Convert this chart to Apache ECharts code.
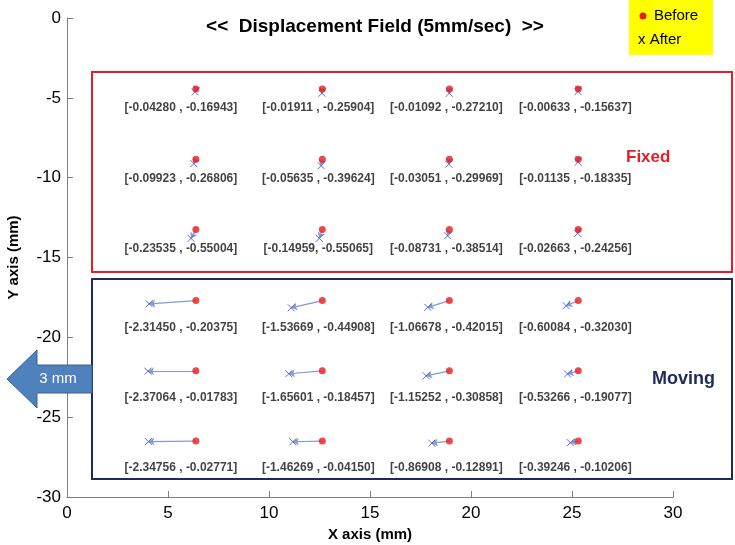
<!DOCTYPE html>
<html>
<head>
<meta charset="utf-8">
<script src="https://cdn.jsdelivr.net/npm/echarts@6/dist/echarts.min.js"></script>
<style>
  html, body { margin: 0; padding: 0; background: #fff; }
  #chart { width: 735px; height: 545px; }
</style>
</head>
<body>
<div id="chart"></div>
<script>
// before positions (mm), row-major: 3 fixed rows then 3 moving rows, 4 columns
const beforeX = [6.38, 12.64, 18.93, 25.31,  6.38, 12.64, 18.93, 25.31,  6.38, 12.64, 18.93, 25.31,
                 6.38, 12.64, 18.93, 25.31,  6.38, 12.64, 18.93, 25.31,  6.38, 12.64, 18.93, 25.31]
const beforeY = [-4.45, -4.45, -4.45, -4.45,  -8.85, -8.85, -8.85, -8.85,  -13.25, -13.25, -13.25, -13.25,
                 -17.7, -17.7, -17.7, -17.7,  -22.1, -22.1, -22.1, -22.1,  -26.5, -26.5, -26.5, -26.5]
const afterX = [6.34, 12.62, 18.92, 25.30,  6.28, 12.58, 18.90, 25.30,  6.14, 12.49, 18.84, 25.28,
                4.07, 11.10, 17.86, 24.71,  4.01, 10.98, 17.78, 24.78,  4.03, 11.18, 18.06, 24.92]
const afterY = [-4.62, -4.71, -4.72, -4.61,  -9.12, -9.25, -9.15, -9.03,  -13.80, -13.80, -13.64, -13.49,
                -17.90, -18.15, -18.12, -18.02,  -22.12, -22.28, -22.41, -22.29,  -26.53, -26.54, -26.63, -26.60]
// displacement labels as printed
const dispLabels = [
  '[-0.04280 , -0.16943]', '[-0.01911 , -0.25904]', '[-0.01092 , -0.27210]', '[-0.00633 , -0.15637]',
  '[-0.09923 , -0.26806]', '[-0.05635 , -0.39624]', '[-0.03051 , -0.29969]', '[-0.01135 , -0.18335]',
  '[-0.23535 , -0.55004]', '[-0.14959, -0.55065]',  '[-0.08731 , -0.38514]', '[-0.02663 , -0.24256]',
  '[-2.31450 , -0.20375]', '[-1.53669 , -0.44908]', '[-1.06678 , -0.42015]', '[-0.60084 , -0.32030]',
  '[-2.37064 , -0.01783]', '[-1.65601 , -0.18457]', '[-1.15252 , -0.30858]', '[-0.53266 , -0.19077]',
  '[-2.34756 , -0.02771]', '[-1.46269 , -0.04150]', '[-0.86908 , -0.12891]', '[-0.39246 , -0.10206]'
]
const xTicks = [0, 30, 5]   // min, max, interval
const yTicks = [-30, 0, 5]

// label shift per column (px) and below-point gap for fixed / moving rows
const labelShift = [-15, -4, -3, -3]
const labelDrop = [19, 27]

const myChart = echarts.init(document.getElementById('chart'))

const beforeData = beforeX.map((x, i) => ({
  value: [x, beforeY[i]],
  label: { offset: [labelShift[i % 4], labelDrop[i < 12 ? 0 : 1]] }
}))
const afterData = afterX.map((x, i) => [x, afterY[i]])
const lineData = beforeX.map((x, i) => ({ coords: [[x, beforeY[i]], [afterX[i], afterY[i]]] }))

const option = {
  animation: false,
  grid: { left: 67, right: 62, top: 18, bottom: 48, containLabel: false, outerBoundsMode: 'none' },
  xAxis: {
    type: 'value', min: xTicks[0], max: xTicks[1], interval: xTicks[2],
    name: 'X axis (mm)', nameLocation: 'middle', nameGap: 28,
    nameTextStyle: { fontFamily: 'Liberation Sans', fontWeight: 'bold', fontSize: 15, color: '#000' },
    axisLine: { onZero: false, lineStyle: { color: '#7f7f7f', width: 1 } },
    axisTick: { inside: true, length: 6, lineStyle: { color: '#7f7f7f' } },
    axisLabel: { fontFamily: 'Liberation Sans', fontSize: 17, color: '#000', margin: 8 },
    splitLine: { show: false }
  },
  yAxis: {
    type: 'value', min: yTicks[0], max: yTicks[1], interval: yTicks[2],
    name: 'Y axis (mm)', nameLocation: 'middle', nameGap: 46,
    nameTextStyle: { fontFamily: 'Liberation Sans', fontWeight: 'bold', fontSize: 15, color: '#000' },
    axisLine: { show: true, onZero: false, lineStyle: { color: '#7f7f7f', width: 1 } },
    axisTick: { show: true, inside: true, length: 6, lineStyle: { color: '#7f7f7f' } },
    axisLabel: { fontFamily: 'Liberation Sans', fontSize: 17, color: '#000', margin: 6 },
    splitLine: { show: false }
  },
  graphic: [
    // fixed box
    { type: 'rect', shape: { x: 92, y: 72, width: 640, height: 200 },
      style: { fill: 'none', stroke: '#e3202a', lineWidth: 2 }, z: 1 },
    // moving box
    { type: 'rect', shape: { x: 92, y: 279, width: 640, height: 200 },
      style: { fill: 'none', stroke: '#1c2a5e', lineWidth: 2 }, z: 1 },
    { type: 'text', left: 626, top: 149,
      style: { text: 'Fixed', fill: '#e3202a', font: 'bold 17px "Liberation Sans"' } },
    { type: 'text', left: 652, top: 370,
      style: { text: 'Moving', fill: '#1c2a5e', font: 'bold 18px "Liberation Sans"' } },
    // title
    { type: 'text', x: 375, y: 27,
      style: { text: '<<  Displacement Field (5mm/sec)  >>', fill: '#000', align: 'center', verticalAlign: 'middle',
               font: 'bold 19px "Liberation Sans"' } },
    // legend box
    { type: 'rect', shape: { x: 629, y: 0, width: 84, height: 55 }, style: { fill: '#ffff00' }, z: 5 },
    { type: 'circle', shape: { cx: 643, cy: 16, r: 3.5 }, style: { fill: '#e81c1c' }, z: 6 },
    { type: 'text', x: 654, y: 16, z: 6,
      style: { text: 'Before', fill: '#000', verticalAlign: 'middle', font: '15px "Liberation Sans"' } },
    { type: 'text', x: 638, y: 40, z: 6,
      style: { text: 'x After', fill: '#000', verticalAlign: 'middle', font: '15px "Liberation Sans"' } },
    // 3 mm arrow
    { type: 'polygon', z: 6,
      shape: { points: [[7, 379], [37, 350], [37, 365], [92, 365], [92, 393], [37, 393], [37, 408]] },
      style: { fill: '#4f81bd', stroke: '#3a6296', lineWidth: 1 } },
    { type: 'text', x: 58, y: 379, z: 7,
      style: { text: '3 mm', fill: '#fff', align: 'center', verticalAlign: 'middle', font: '15px "Liberation Sans"' } }
  ],
  series: [
    {
      type: 'lines',
      coordinateSystem: 'cartesian2d',
      data: lineData,
      symbol: ['none', 'arrow'],
      symbolSize: 6,
      lineStyle: { color: '#7f9bd0', width: 1.2, opacity: 1 },
      z: 2
    },
    {
      name: 'After',
      type: 'scatter',
      data: afterData,
      symbol: 'path://M0,0L10,10M10,0L0,10',
      symbolSize: 7,
      itemStyle: { color: 'none', borderColor: '#3b48d8', borderWidth: 1 },
      z: 3
    },
    {
      name: 'Before',
      type: 'scatter',
      data: beforeData,
      symbol: 'circle',
      symbolSize: 7,
      itemStyle: { color: '#e81c1c' },
      label: {
        show: true,
        position: 'inside',
        align: 'center',
        verticalAlign: 'middle',
        formatter: p => dispLabels[p.dataIndex],
        fontFamily: 'Liberation Sans',
        fontWeight: 'bold',
        fontSize: 12,
        color: '#111'
      },
      z: 4
    }
  ]
}

myChart.setOption(option)
</script>
</body>
</html>
